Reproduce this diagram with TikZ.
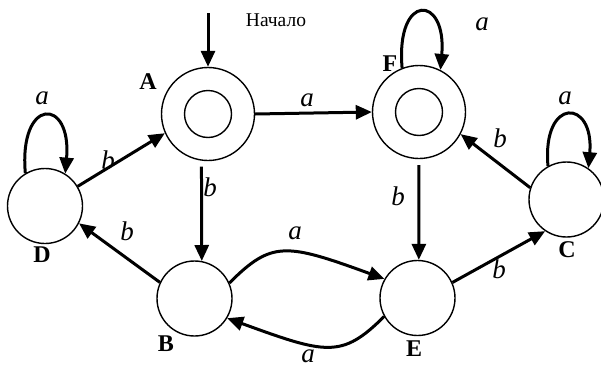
\documentclass[tikz,border=0pt]{standalone}
\usepackage{fontspec}
\setmainfont{Liberation Serif}
\usetikzlibrary{arrows.meta}
\begin{document}
\begin{tikzpicture}[x=1pt,y=1pt,
  state/.style={circle,draw,line width=1.4pt,minimum size=75pt,inner sep=0pt},
  accouter/.style={circle,draw,line width=1.4pt,minimum size=93pt,inner sep=0pt},
  accinner/.style={circle,draw,line width=1.4pt,minimum size=47pt,inner sep=0pt},
  arr/.style={line width=3pt,-{Triangle[length=16pt,width=14pt]}},
  slab/.style={font=\fontsize{24}{24}\selectfont\bfseries,inner sep=0pt},
  elab/.style={font=\fontsize{27}{27}\selectfont\itshape,inner sep=0pt}]
\useasboundingbox (0,0) rectangle (601,-367);
% states
\node[accouter] (A) at (208,-114) {};
\node[accinner] (Ai) at (208,-114) {};
\node[accouter] (F) at (419,-112) {};
\node[accinner] (Fi) at (419,-112) {};
\node[state] (D) at (45,-206) {};
\node[state] (B) at (194.5,-298.5) {};
\node[state] (E) at (417.5,-298) {};
\node[state] (C) at (566.5,-199.5) {};
% state names
\node[slab] (lA) at (148,-82) {A};
\node[slab] (lF) at (390,-64) {F};
\node[slab] (lD) at (42,-255) {D};
\node[slab] (lB) at (166,-344) {B};
\node[slab] (lE) at (414,-349) {E};
\node[slab] (lC) at (567,-250) {C};
% start
\coordinate (s) at (208,-13);
\node[font=\fontsize{19.5}{19.5}\selectfont,inner sep=0pt] (start) at (276,-20) {Начало};
\draw[arr] (s) -- (A.north);
% edges
\draw[arr] (A.east) -- (F.west);
\draw[arr] (D.31) -- (A.204);
\draw[arr,shorten <=6pt] (A.-98) -- (B.79);
\draw[arr] (B.155) -- (D.-27);
\draw[arr] (B.24) to[out=45,in=160,out distance=60pt,in distance=105pt] (E.150);
\draw[arr] (E.209) to[out=225,in=-20,out distance=60pt,in distance=105pt] (B.-31);
\draw[arr,shorten <=6pt] (F.south) -- (E.88);
\draw[arr] (E.24) -- (C.236);
\draw[arr] (C.162) -- (F.-28);
% loops
\draw[arr] (D.121) to[out=95,in=85,distance=77pt] (D.58);
\draw[arr] (F.111) to[out=95,in=85,distance=76pt] (F.63);
\draw[arr] (C.119) to[out=95,in=85,distance=70pt] (C.55);
% edge labels
\node[elab] (eAF) at (307,-100) {a};
\node[elab] (eDA) at (108,-160) {b};
\node[elab] (eAB) at (210,-187) {b};
\node[elab] (eBD) at (127,-231) {b};
\node[elab] (eBE) at (295,-233) {a};
\node[elab] (eEB) at (308,-356) {a};
\node[elab] (eFE) at (398,-196) {b};
\node[elab] (eEC) at (499,-269) {b};
\node[elab] (eCF) at (500,-138) {b};
\node[elab] (eDD) at (42,-98) {a};
\node[elab] (eFF) at (482,-24) {a};
\node[elab] (eCC) at (565,-98) {a};
\end{tikzpicture}
\end{document}
